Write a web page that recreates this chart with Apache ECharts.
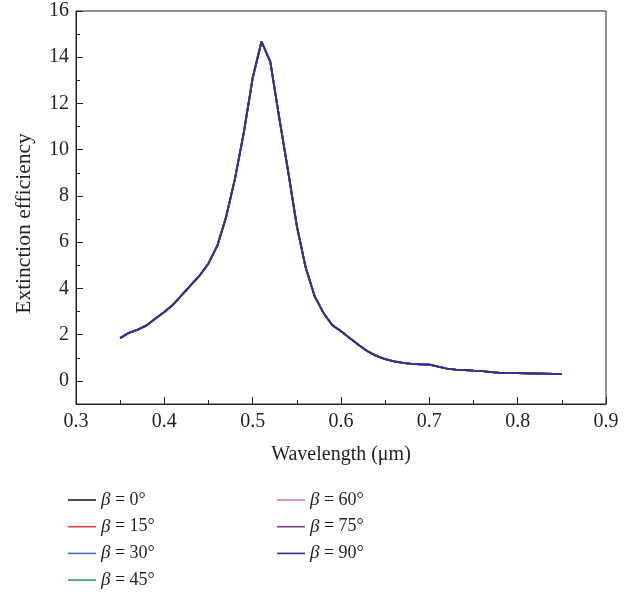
<!DOCTYPE html>
<html>
<head>
<meta charset="utf-8">
<script src="https://cdn.jsdelivr.net/npm/echarts@6/dist/echarts.min.js"></script>
<style>html,body{margin:0;padding:0;background:#fff}#c{width:633px;height:592px}</style>
</head>
<body>
<div id="c"></div>
<script>
const wavelengths = [0.35,0.36,0.37,0.38,0.39,0.40,0.41,0.42,0.43,0.44,0.45,0.46,0.47,0.48,0.49,0.50,0.51,0.52,0.53,0.54,0.55,0.56,0.57,0.58,0.59,0.60,0.61,0.62,0.63,0.64,0.65,0.66,0.67,0.68,0.69,0.70,0.71,0.72,0.73,0.74,0.75,0.76,0.77,0.78,0.79,0.80,0.81,0.82,0.83,0.84,0.85];
const beta0  = [1.85,2.08,2.22,2.40,2.70,2.98,3.30,3.72,4.14,4.56,5.08,5.85,7.10,8.75,10.75,13.10,14.68,13.80,11.40,9.10,6.70,4.90,3.68,2.95,2.42,2.15,1.85,1.55,1.28,1.08,0.94,0.84,0.78,0.74,0.72,0.70,0.62,0.53,0.49,0.47,0.44,0.42,0.38,0.35,0.35,0.34,0.33,0.32,0.31,0.30,0.30];
const beta15 = [1.85,2.08,2.22,2.40,2.70,2.98,3.30,3.72,4.14,4.56,5.08,5.85,7.10,8.75,10.75,13.10,14.68,13.80,11.40,9.10,6.70,4.90,3.68,2.95,2.42,2.15,1.85,1.55,1.28,1.08,0.94,0.84,0.78,0.74,0.72,0.70,0.62,0.53,0.49,0.47,0.44,0.42,0.38,0.35,0.35,0.34,0.33,0.32,0.31,0.30,0.30];
const beta30 = [1.85,2.08,2.22,2.40,2.70,2.98,3.30,3.72,4.14,4.56,5.08,5.85,7.10,8.75,10.75,13.10,14.68,13.80,11.40,9.10,6.70,4.90,3.68,2.95,2.42,2.15,1.85,1.55,1.28,1.08,0.94,0.84,0.78,0.74,0.72,0.70,0.62,0.53,0.49,0.47,0.44,0.42,0.38,0.35,0.35,0.34,0.33,0.32,0.31,0.30,0.30];
const beta45 = [1.85,2.08,2.22,2.40,2.70,2.98,3.30,3.72,4.14,4.56,5.08,5.85,7.10,8.75,10.75,13.10,14.68,13.80,11.40,9.10,6.70,4.90,3.68,2.95,2.42,2.15,1.85,1.55,1.28,1.08,0.94,0.84,0.78,0.74,0.72,0.70,0.62,0.53,0.49,0.47,0.44,0.42,0.38,0.35,0.35,0.34,0.33,0.32,0.31,0.30,0.30];
const beta60 = [1.85,2.08,2.22,2.40,2.70,2.98,3.30,3.72,4.14,4.56,5.08,5.85,7.10,8.75,10.75,13.10,14.68,13.80,11.40,9.10,6.70,4.90,3.68,2.95,2.42,2.15,1.85,1.55,1.28,1.08,0.94,0.84,0.78,0.74,0.72,0.70,0.62,0.53,0.49,0.47,0.44,0.42,0.38,0.35,0.35,0.34,0.33,0.32,0.31,0.30,0.30];
const beta75 = [1.85,2.08,2.22,2.40,2.70,2.98,3.30,3.72,4.14,4.56,5.08,5.85,7.10,8.75,10.75,13.10,14.68,13.80,11.40,9.10,6.70,4.90,3.68,2.95,2.42,2.15,1.85,1.55,1.28,1.08,0.94,0.84,0.78,0.74,0.72,0.70,0.62,0.53,0.49,0.47,0.44,0.42,0.38,0.35,0.35,0.34,0.33,0.32,0.31,0.30,0.30];
const beta90 = [1.85,2.08,2.22,2.40,2.70,2.98,3.30,3.72,4.14,4.56,5.08,5.85,7.10,8.75,10.75,13.10,14.68,13.80,11.40,9.10,6.70,4.90,3.68,2.95,2.42,2.15,1.85,1.55,1.28,1.08,0.94,0.84,0.78,0.74,0.72,0.70,0.62,0.53,0.49,0.47,0.44,0.42,0.38,0.35,0.35,0.34,0.33,0.32,0.31,0.30,0.30];
const seriesNames = ['β = 0°','β = 15°','β = 30°','β = 45°','β = 60°','β = 75°','β = 90°'];
const seriesValues = [beta0, beta15, beta30, beta45, beta60, beta75, beta90];
const colors = ['#231f20','#e2383f','#4a70b8','#379a63','#cf78c4','#7a3a88','#2e3192'];

const FONT = '"Liberation Serif", "DejaVu Serif", serif';
const TXT = '#231f20';

const chart = echarts.init(document.getElementById('c'), null, {renderer: 'canvas'});
const series = seriesNames.map((n, i) => ({
  name: n,
  type: 'line',
  xAxisIndex: 0,
  yAxisIndex: 0,
  symbol: 'none',
  data: wavelengths.map((w, j) => [w, seriesValues[i][j]]),
  lineStyle: {color: colors[i], width: 1.8},
  itemStyle: {color: colors[i]},
  animation: false
}));

const legendCommon = {
  orient: 'vertical',
  itemWidth: 28,
  itemHeight: 14,
  itemGap: 6.7,
  itemDistance: 12,
  height: 130,
  icon: 'path://M0,6.2 L28,6.2 L28,7.8 L0,7.8 Z',
  textStyle: {fontFamily: FONT, fontSize: 18, color: TXT, lineHeight: 20,
    rich: {i: {fontFamily: FONT, fontSize: 19, fontStyle: 'italic', color: TXT, lineHeight: 20}}},
  formatter: n => n.replace('β', '{i|β}'),
  selectedMode: false
};

chart.setOption({
  animation: false,
  backgroundColor: '#fff',
  color: colors,
  grid: [
    {left: 76, top: 11, width: 530, height: 393, show: true, borderColor: TXT, borderWidth: 1, containLabel: false},
    {left: 76, top: 11, width: 530, height: 369.9, show: false, containLabel: false}
  ],
  legend: [
    Object.assign({}, legendCommon, {left: 63, top: 485, data: seriesNames.slice(0, 4)}),
    Object.assign({}, legendCommon, {left: 272, top: 485, data: seriesNames.slice(4)})
  ],
  xAxis: [
    {type: 'value', gridIndex: 0, min: 0.3, max: 0.9, interval: 0.05,
     axisLine: {onZero: false, lineStyle: {color: TXT, width: 1}},
     axisTick: {inside: true, length: 4, lineStyle: {color: TXT}},
     splitLine: {show: false},
     axisLabel: {color: TXT, fontFamily: FONT, fontSize: 20, margin: 8,
       formatter: v => { const k = Math.round(v * 100); return (k % 10 === 0) ? (k / 100).toFixed(1) : ''; }},
     name: 'Wavelength (μm)', nameLocation: 'middle', nameGap: 41,
     nameTextStyle: {color: TXT, fontFamily: FONT, fontSize: 20}
    },
    {type: 'value', gridIndex: 0, min: 0.3, max: 0.9, interval: 0.1, position: 'bottom',
     axisLine: {show: false, onZero: false},
     axisTick: {inside: true, length: 7, lineStyle: {color: TXT}},
     splitLine: {show: false}, axisLabel: {show: false}},
    {type: 'value', gridIndex: 1, min: 0, max: 1, show: false}
  ],
  yAxis: [
    {type: 'value', gridIndex: 0, min: -1, max: 16, interval: 1,
     axisLine: {show: true, onZero: false, lineStyle: {color: TXT, width: 1}},
     axisTick: {show: true, inside: true, length: 4, lineStyle: {color: TXT}},
     splitLine: {show: false},
     axisLabel: {color: TXT, fontFamily: FONT, fontSize: 20, margin: 7,
       formatter: v => (v >= 0 && Math.round(v) % 2 === 0) ? String(Math.round(v)) : ''},
     name: 'Extinction efficiency', nameLocation: 'middle', nameGap: 41,
     nameTextStyle: {color: TXT, fontFamily: FONT, fontSize: 21.5, padding: [0, 32, 0, 0]}
    },
    {type: 'value', gridIndex: 1, min: 0, max: 16, interval: 2,
     axisLine: {show: false, onZero: false},
     axisTick: {show: true, inside: true, length: 7, lineStyle: {color: TXT}},
     splitLine: {show: false}, axisLabel: {show: false}}
  ],
  series: series
});
</script>
</body>
</html>
